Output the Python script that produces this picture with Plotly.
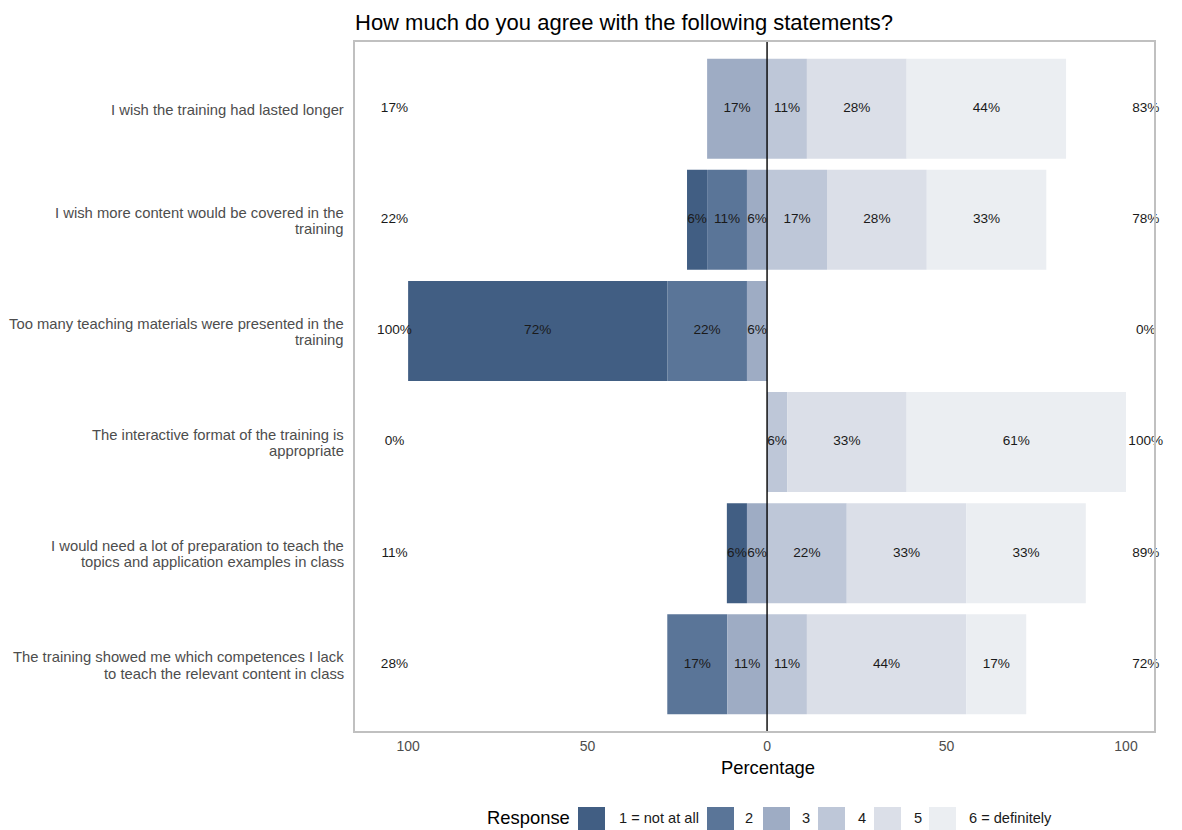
import plotly.graph_objects as go

statements = [
    "I wish the training had lasted longer",
    "I wish more content would be covered in the\ntraining",
    "Too many teaching materials were presented in the\ntraining",
    "The interactive format of the training is\nappropriate",
    "I would need a lot of preparation to teach the\ntopics and application examples in class",
    "The training showed me which competences I lack\nto teach the relevant content in class",
]
levels = ["1 = not at all", "2", "3", "4", "5", "6 = definitely"]
colors = ["#415e83", "#5a7598", "#9eacc4", "#bec7d8", "#dbdfe8", "#ebeef2"]

lvl1 = [0.0, 5.6, 72.2, 0.0, 5.6, 0.0]
lvl2 = [0.0, 11.1, 22.2, 0.0, 0.0, 16.7]
lvl3 = [16.7, 5.6, 5.6, 0.0, 5.6, 11.1]
lvl4 = [11.1, 16.7, 0.0, 5.6, 22.2, 11.1]
lvl5 = [27.8, 27.8, 0.0, 33.3, 33.3, 44.4]
lvl6 = [44.4, 33.3, 0.0, 61.1, 33.3, 16.7]
values = [lvl1, lvl2, lvl3, lvl4, lvl5, lvl6]

low_total = [a + b + c for a, b, c in zip(lvl1, lvl2, lvl3)]
high_total = [a + b + c for a, b, c in zip(lvl4, lvl5, lvl6)]

W, H = 1182, 830
PL, PR, PT, PB = 355, 1154, 42, 731  # panel edges in px
FONT = "Liberation Sans, Arial, sans-serif"

fig = go.Figure()

n = len(statements)
bases = []
for k in range(6):
    b = []
    for i in range(n):
        if k < 3:
            b.append(-sum(values[j][i] for j in range(k, 3)))
        else:
            b.append(sum(values[j][i] for j in range(3, k)))
    bases.append(b)

for k in range(6):
    fig.add_trace(go.Bar(
        y=statements, x=values[k], base=bases[k], orientation="h",
        marker=dict(color=colors[k], line=dict(width=0)),
        name=levels[k], width=0.9, hoverinfo="skip", showlegend=False,
    ))

lx, ly, lt = [], [], []
for k in range(6):
    for i in range(n):
        v = values[k][i]
        if v > 0:
            lx.append(bases[k][i] + v / 2)
            ly.append(statements[i])
            lt.append(f"{round(v)}%")
txtfont = dict(size=13.6, color="#1a1a1a", family=FONT)
fig.add_trace(go.Scatter(x=lx, y=ly, text=lt, mode="text", showlegend=False,
                         textfont=txtfont, hoverinfo="skip", cliponaxis=False))
fig.add_trace(go.Scatter(x=[-103.8] * n, y=statements, text=[f"{round(v)}%" for v in low_total],
                         mode="text", showlegend=False, textfont=txtfont,
                         hoverinfo="skip", cliponaxis=False))
fig.add_trace(go.Scatter(x=[105.5] * n, y=statements, text=[f"{round(v)}%" for v in high_total],
                         mode="text", showlegend=False, textfont=txtfont,
                         hoverinfo="skip", cliponaxis=False))

# category labels, one annotation per line for tight line spacing
for s in statements:
    lines = s.split("\n")
    m = len(lines)
    for j, line in enumerate(lines):
        fig.add_annotation(x=0, xref="paper", y=s, yref="y", text=line, showarrow=False,
                           xanchor="right", yanchor="middle", xshift=-9,
                           yshift=(m - 1) * 8.2 - j * 16.4 - 1,
                           font=dict(size=14.8, color="#4d4d4d", family=FONT))

fig.add_shape(type="line", x0=0, x1=0, xref="x", y0=0, y1=1, yref="paper",
              line=dict(color="black", width=1.4), layer="above")

# custom legend (bottom)
def px_x(p):
    return (p - PL) / (PR - PL)

def px_y(p):
    return (PB - p) / (PB - PT)

sq_left = [578, 707, 763, 818, 874, 929]
lab_left = [617, 743, 800, 856, 912, 967]
sq_size = 27
leg_y = 818
for k in range(6):
    fig.add_shape(type="rect", xref="paper", yref="paper",
                  x0=px_x(sq_left[k]), x1=px_x(sq_left[k] + sq_size),
                  y0=px_y(807), y1=px_y(807 + sq_size),
                  fillcolor=colors[k], line=dict(width=0), layer="above")
    fig.add_annotation(x=px_x(lab_left[k]), y=px_y(leg_y), xref="paper", yref="paper",
                       text=levels[k], showarrow=False, xanchor="left", yanchor="middle",
                       font=dict(size=14.6, color="#1a1a1a", family=FONT))
fig.add_annotation(x=px_x(485), y=px_y(leg_y), xref="paper", yref="paper",
                   text="Response", showarrow=False, xanchor="left", yanchor="middle",
                   font=dict(size=18.4, color="black", family=FONT))

# x axis title (centred as in the reference)
fig.add_annotation(x=px_x(768), y=px_y(767), xref="paper", yref="paper",
                   text="Percentage", showarrow=False, xanchor="center", yanchor="middle",
                   font=dict(size=18.4, color="black", family=FONT))

fig.update_layout(
    width=W, height=H,
    barmode="overlay",
    showlegend=False,
    plot_bgcolor="white", paper_bgcolor="white",
    font=dict(family=FONT, color="#1a1a1a"),
    margin=dict(l=PL, r=W - PR, t=PT, b=H - PB, autoexpand=False),
    title=dict(text="How much do you agree with the following statements?",
               x=PL / W, xanchor="left", y=1 - 22 / H, yanchor="middle",
               font=dict(size=22, color="black", family=FONT)),
    xaxis=dict(range=[-114.8, 107.8], tickvals=[-100, -50, 0, 50, 100],
               ticktext=["100", "50", "0", "50", "100"], showgrid=False, zeroline=False,
               showline=True, mirror=True, linecolor="#c0c0c0", linewidth=1.5,
               tickfont=dict(size=14, color="#4d4d4d"), ticks="", automargin=False,
               ticklabelstandoff=1),
    yaxis=dict(categoryorder="array", categoryarray=statements[::-1],
               range=[-0.6, n - 0.4], showgrid=False, zeroline=False,
               showline=True, mirror=True, linecolor="#c0c0c0", linewidth=1.5,
               showticklabels=False, ticks="", automargin=False),
)

fig.write_html("out.html", config={"displayModeBar": False},
               post_script="document.body.style.margin='0';document.body.style.overflow='hidden';")
